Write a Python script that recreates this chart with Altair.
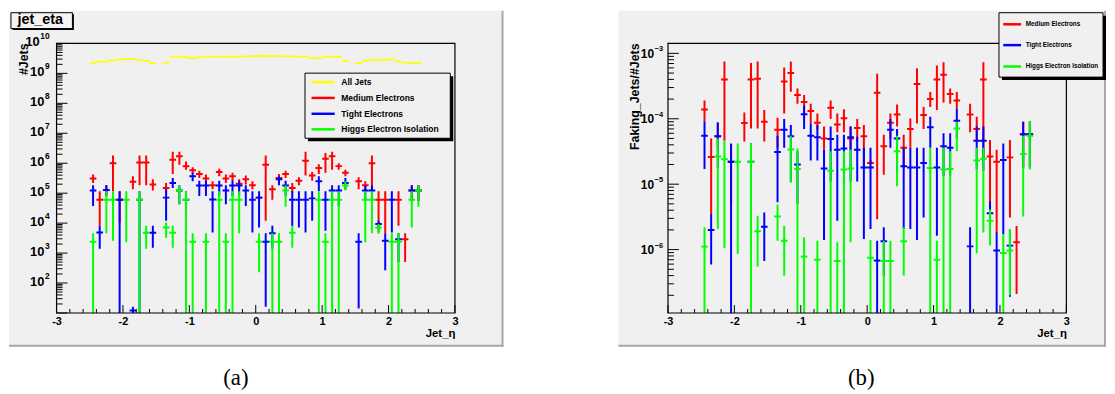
import altair as alt
import pandas as pd

SERIES = ["All Jets", "Medium Electrons", "Tight Electrons", "Higgs Electron Isolation"]
COLORS = ["#ffff00", "#ff0000", "#0000ff", "#00ff00"]
ETA = [round(-2.45 + 0.1 * i, 2) for i in range(50)]   # bin centres (bin width 0.1)
HALF_BIN = 0.05
X_TICKS = [-3, -2, -1, 0, 1, 2, 3]

# ---------- panel (a): #Jets per eta bin ----------
ALL_JETS = [2.24e9, 2.45e9, 2.45e9, 2.7e9, 2.9e9, 3.0e9, 3.0e9, 2.75e9, 2.6e9, 2.2e9,
            None, 2.3e9, 3.6e9, 3.6e9, 3.45e9, 3.2e9, 3.4e9, 3.6e9, 3.6e9, 3.6e9,
            3.6e9, 3.65e9, 3.65e9, 3.7e9, 3.75e9, 3.8e9, 3.8e9, 3.75e9, 3.75e9, 3.7e9,
            3.7e9, 3.65e9, 3.6e9, 3.25e9, 3.25e9, 3.6e9, 3.6e9, 3.6e9, 2.6e9, None,
            2.2e9, 2.65e9, 2.8e9, 2.8e9, 2.85e9, 2.95e9, 2.5e9, 2.3e9, 2.25e9, 2.2e9]

# bin index: (value, lower, upper)
MEDIUM_A = {
    0: (3.1e5, 2.2e5, 4.2e5), 1: (6.0e4, 8.2e3, 1.17e5), 2: (1.27e5, 8.0e4, 1.85e5),
    3: (1.0e6, 1.17e5, 1.8e6), 4: (6.0e4, 1.0e4, 1.17e5), 6: (2.4e5, 1.35e5, 3.7e5),
    7: (1.05e6, 1.85e5, 1.8e6), 8: (1.05e6, 1.85e5, 1.8e6), 9: (1.95e5, 1.23e5, 2.9e5),
    11: (1.5e5, 1.03e5, 2.2e5), 12: (1.3e6, 4.4e5, 2.4e6), 13: (1.7e6, 8.9e5, 2.4e6),
    14: (7.9e5, 6.1e5, 1.15e6), 15: (5.8e5, 4.4e5, 7.3e5), 16: (4.4e5, 3.2e5, 5.6e5),
    17: (3.1e5, 2.2e5, 4.2e5), 18: (1.85e5, 1.35e5, 2.5e5), 19: (5.1e5, 3.7e5, 6.5e5),
    20: (3.1e5, 2.2e5, 4.2e5), 21: (3.7e5, 2.5e5, 4.8e5), 22: (2.05e5, 1.35e5, 2.9e5),
    23: (2.9e5, 1.95e5, 3.9e5), 24: (1.85e5, 1.35e5, 2.5e5), 25: (7.1e4, 5.8e4, 8.7e4),
    26: (8.9e5, 1.2e4, 1.8e6), 27: (1.35e5, 6.0e4, 1.85e5), 28: (3.2e5, 2.2e5, 4.4e5),
    29: (4.4e5, 3.2e5, 5.6e5), 30: (1.5e5, 1.03e5, 2.2e5), 31: (2.6e5, 1.85e5, 3.4e5),
    32: (1.2e6, 3.9e5, 2.4e6), 33: (3.9e5, 2.6e5, 5.1e5), 34: (6.9e5, 4.4e5, 9.3e5),
    35: (1.4e6, 4.8e5, 2.2e6), 36: (1.7e6, 6.1e5, 2.4e6), 37: (8.0e5, 6.1e5, 1.0e6),
    38: (4.8e5, 3.7e5, 6.1e5), 40: (2.5e5, 1.35e5, 3.4e5), 41: (1.85e5, 1.23e5, 2.5e5),
    42: (1.0e6, 1.17e5, 1.8e6), 43: (6.0e4, 4.9e3, 1.17e5), 44: (6.0e4, 4.6e3, 1.17e5),
    46: (6.0e4, 8.2e3, 1.17e5), 47: (2.9e3, 5.0e2, 4.6e3), 48: (1.23e5, 5.5e4, 1.85e5),
    49: (1.23e5, 5.5e4, 1.85e5),
}
TIGHT_A = {
    0: (1.23e5, 3.7e4, 1.85e5), 1: (4.9e3, 1.4e3, 8.2e3), 2: (1.27e5, 8.0e4, 1.85e5),
    4: (6.0e4, 1, 1.17e5), 6: (12, 1, 16), 7: (6.0e4, 1, 1.17e5), 9: (4.8e3, 1.5e3, 8.2e3),
    11: (7.1e4, 1.2e4, 1.35e5), 12: (2.2e5, 1.5e5, 3.2e5), 13: (1.23e5, 4.3e4, 1.85e5),
    14: (6.0e4, 2.0e4, 1.17e5), 15: (3.7e5, 2.5e5, 4.8e5), 16: (1.8e5, 8.0e4, 2.6e5),
    17: (1.8e5, 8.0e4, 2.6e5), 18: (6.2e4, 4.9e3, 1.17e5), 19: (1.8e5, 8.0e4, 2.6e5),
    20: (1.23e5, 4.3e4, 1.85e5), 21: (1.8e5, 8.0e4, 2.6e5), 22: (1.8e5, 8.0e4, 2.6e5),
    23: (1.23e5, 3.7e4, 1.85e5), 24: (6.0e4, 4.9e3, 1.17e5), 25: (7.1e4, 7.2e3, 1.17e5),
    26: (2.4e3, 16, 4.6e3), 27: (4.6e3, 1.4e3, 8.2e3), 28: (2.9e5, 1.85e5, 3.7e5),
    29: (1.8e5, 8.0e4, 2.6e5), 30: (6.0e4, 8.0e3, 1.17e5), 31: (6.0e4, 7.2e3, 1.17e5),
    32: (6.0e4, 4.9e3, 1.17e5), 33: (6.7e4, 1.2e4, 1.17e5), 34: (2.5e5, 1.17e5, 3.7e5),
    35: (6.0e4, 5.6e3, 1.17e5), 36: (1.23e5, 3.7e4, 1.85e5), 37: (1.23e5, 3.7e4, 1.85e5),
    38: (2.2e5, 1.35e5, 3.2e5), 40: (2.4e3, 14, 4.6e3), 41: (1.23e5, 5.8e4, 1.85e5),
    42: (1.23e5, 5.8e4, 1.85e5), 43: (9.3e3, 6.3e3, 1.2e4), 44: (2.6e3, 265, 4.6e3),
    45: (6.0e4, 4.9e3, 1.17e5), 46: (2.9e3, 5.0e2, 4.6e3), 48: (1.23e5, 5.5e4, 1.85e5),
    49: (1.23e5, 5.5e4, 1.85e5),
}
HIGGS_A = {
    0: (2.4e3, 1, 4.6e3), 2: (6.0e4, 4.6e3, 1.17e5), 3: (6.0e4, 2.6e3, 1.17e5),
    5: (6.0e4, 2.3e3, 1.17e5), 7: (6.0e4, 1, 1.17e5), 8: (4.8e3, 1.4e3, 8.2e3),
    11: (7.2e3, 3.2e3, 1.05e4), 12: (4.8e3, 1.5e3, 8.2e3), 13: (1.23e5, 4.3e4, 1.85e5),
    14: (6.0e4, 1, 1.17e5), 15: (2.4e3, 1, 4.6e3), 17: (2.4e3, 1, 4.6e3),
    19: (6.0e4, 1, 1.17e5), 20: (2.4e3, 1, 4.6e3), 21: (6.0e4, 1, 1.17e5),
    22: (6.0e4, 4.6e3, 1.17e5), 25: (2.4e3, 2.3e2, 4.6e3), 27: (2.4e3, 1, 4.6e3),
    28: (2.4e3, 1, 4.6e3), 29: (1.23e5, 3.5e4, 1.85e5), 30: (4.8e3, 1.5e3, 8.2e3),
    34: (6.0e4, 1, 1.17e5), 35: (2.4e3, 1, 4.6e3), 36: (6.0e4, 1, 1.17e5),
    37: (6.0e4, 1, 1.17e5), 38: (1.8e5, 1.23e5, 2.5e5), 41: (6.0e4, 2.3e3, 1.17e5),
    42: (6.0e4, 4.6e3, 1.17e5), 43: (7.2e3, 4.4e3, 9.3e3), 45: (2.4e3, 1, 4.6e3),
    46: (2.4e3, 1, 4.6e3), 48: (6.0e4, 7.2e3, 1.17e5), 49: (1.23e5, 3.5e4, 1.85e5),
}

# ---------- panel (b): Faking_Jets/#Jets ----------
MEDIUM_B = {
    0: (1.39e-4, 9.2e-5, 1.9e-4), 1: (2.6e-5, 3.5e-6, 5.0e-5), 2: (5.4e-5, 3.6e-5, 8.8e-5),
    3: (4.0e-4, 4.6e-5, 7.5e-4), 4: (2.2e-5, 5.0e-6, 4.0e-5), 6: (8.6e-5, 4.5e-5, 1.25e-4),
    7: (4.0e-4, 7.1e-5, 7.1e-4), 8: (4.1e-4, 7.1e-5, 7.5e-4), 9: (9.0e-5, 4.5e-5, 1.36e-4),
    11: (6.8e-5, 3.6e-5, 1.04e-4), 12: (3.7e-4, 1.2e-4, 6.1e-4), 13: (5.0e-4, 2.6e-4, 7.5e-4),
    14: (2.3e-4, 1.7e-4, 2.9e-4), 15: (1.8e-4, 1.2e-4, 2.3e-4), 16: (1.32e-4, 8.5e-5, 1.7e-4),
    17: (8.7e-5, 6.8e-5, 1.2e-4), 18: (5.0e-5, 3.36e-5, 7.6e-5), 19: (1.47e-4, 9.9e-5, 1.9e-4),
    20: (8.2e-5, 6.2e-5, 1.2e-4), 21: (1.02e-4, 6.2e-5, 1.4e-4), 22: (5.0e-5, 3.36e-5, 7.6e-5),
    23: (7.2e-5, 4.5e-5, 9.9e-5), 24: (5.4e-5, 1.77e-5, 8.0e-5), 25: (2.1e-5, 2.0e-5, 2.37e-5),
    26: (2.5e-4, 2.9e-6, 4.9e-4), 27: (3.8e-5, 1.4e-5, 5.7e-5), 28: (8.7e-5, 5.0e-5, 1.2e-4),
    29: (1.16e-4, 7.6e-5, 1.65e-4), 30: (3.6e-5, 1.77e-5, 5.7e-5), 31: (7.0e-5, 3.6e-5, 1.01e-4),
    32: (3.4e-4, 8.5e-5, 5.9e-4), 33: (1.14e-4, 7.0e-5, 1.52e-4), 34: (2.0e-4, 1.52e-4, 2.57e-4),
    35: (4.0e-4, 1.36e-4, 6.5e-4), 36: (4.7e-4, 1.77e-4, 7.3e-4), 37: (2.4e-4, 1.7e-4, 2.9e-4),
    38: (1.9e-4, 1.44e-4, 2.57e-4), 40: (1.16e-4, 6.2e-5, 1.7e-4), 41: (7.0e-5, 4.5e-5, 1.07e-4),
    42: (4.0e-4, 2.5e-5, 7.3e-4), 43: (2.66e-5, 1.83e-6, 4.75e-5), 44: (2.2e-5, 1.8e-6, 3.36e-5),
    46: (2.57e-5, 3.1e-6, 4.75e-5), 47: (1.3e-6, 2.1e-7, 2.3e-6), 48: (5.8e-5, 1.8e-5, 9.0e-5),
    49: (5.8e-5, 1.8e-5, 9.2e-5),
}
TIGHT_B = {
    0: (5.5e-5, 1.7e-5, 9.2e-5), 1: (2.0e-6, 5.9e-7, 3.5e-6), 2: (5.4e-5, 1.77e-5, 8.8e-5),
    4: (2.2e-5, 1e-8, 4.2e-5), 7: (2.2e-5, 1.15e-6, 4.2e-5), 9: (2.24e-6, 6.7e-7, 3.7e-6),
    11: (3.1e-5, 5.3e-6, 5.5e-5), 12: (6.8e-5, 3.6e-5, 9.9e-5), 13: (5.4e-5, 1.1e-5, 8.0e-5),
    14: (2.0e-5, 5.0e-6, 3.2e-5), 15: (1.17e-4, 7.0e-5, 1.6e-4), 16: (5.5e-5, 2.3e-5, 8.5e-5),
    17: (5.2e-5, 2.3e-5, 8.0e-5), 18: (1.73e-5, 1.4e-6, 3.36e-5), 19: (4.9e-5, 1.1e-5, 7.6e-5),
    20: (3.36e-5, 2.75e-6, 5.7e-5), 21: (3.5e-5, 1.0e-5, 5.7e-5), 22: (5.2e-5, 1.1e-5, 7.6e-5),
    23: (3.36e-5, 1.1e-5, 5.3e-5), 24: (1.8e-5, 1.45e-6, 3.6e-5), 25: (1.8e-5, 2.06e-6, 3.6e-5),
    26: (6.8e-7, 1e-8, 1.37e-6), 27: (1.34e-6, 4.0e-7, 2.2e-6), 28: (6.8e-5, 3.6e-5, 9.9e-5),
    29: (5.0e-5, 1.5e-5, 7.0e-5), 30: (1.88e-5, 2.06e-6, 3.6e-5), 31: (1.8e-5, 2.06e-6, 3.6e-5),
    32: (1.8e-5, 1.4e-6, 3.6e-5), 33: (2.1e-5, 3.1e-6, 3.6e-5), 34: (7.4e-5, 3.6e-5, 1.07e-4),
    35: (1.8e-5, 1.63e-6, 3.6e-5), 36: (3.8e-5, 1.32e-5, 6.0e-5), 37: (3.6e-5, 1.32e-5, 6.0e-5),
    38: (9.3e-5, 5.0e-5, 1.44e-4), 40: (1.12e-6, 1e-8, 2.2e-6), 41: (4.6e-5, 1.7e-5, 7.6e-5),
    42: (4.6e-5, 1.6e-5, 7.6e-5), 43: (3.6e-6, 1.83e-6, 5.5e-6), 44: (9.7e-7, 1e-8, 1.83e-6),
    45: (2.34e-5, 1.73e-6, 4.2e-5), 46: (1.15e-6, 1.9e-7, 2.06e-6), 48: (5.8e-5, 1.8e-5, 9.0e-5),
    49: (5.8e-5, 1.8e-5, 9.0e-5),
}
HIGGS_B = {
    0: (1.11e-6, 1e-8, 2.2e-6), 2: (2.66e-5, 2.06e-6, 5.0e-5), 3: (2.4e-5, 1.06e-6, 4.6e-5),
    5: (2.2e-5, 8.6e-7, 4.2e-5), 7: (2.2e-5, 1e-8, 4.2e-5), 8: (1.9e-6, 5.5e-7, 3.3e-6),
    11: (3.2e-6, 1.37e-6, 4.9e-6), 12: (1.37e-6, 4.0e-7, 2.3e-6), 13: (3.4e-5, 1.05e-5, 5.5e-5),
    14: (1.7e-5, 1e-8, 3.5e-5), 15: (7.8e-7, 1e-8, 1.54e-6), 17: (7.0e-7, 1e-8, 1.37e-6),
    19: (1.6e-5, 1e-8, 3.2e-5), 20: (6.7e-7, 1e-8, 1.3e-6), 21: (1.67e-5, 1e-8, 3.2e-5),
    22: (1.73e-5, 1.3e-6, 3.36e-5), 25: (7.5e-7, 1e-8, 1.4e-6), 27: (6.7e-7, 1e-8, 1.37e-6),
    28: (6.7e-7, 1e-8, 1.37e-6), 29: (3.2e-5, 9.3e-6, 5.5e-5), 30: (1.34e-6, 4.0e-7, 2.2e-6),
    34: (1.77e-5, 1e-8, 3.6e-5), 35: (7.0e-7, 1e-8, 1.37e-6), 36: (1.67e-5, 1e-8, 3.6e-5),
    37: (1.71e-5, 1e-8, 3.2e-5), 38: (7.1e-5, 3.2e-5, 9.0e-5), 41: (2.3e-5, 8.8e-7, 3.6e-5),
    42: (2.45e-5, 1.83e-6, 3.6e-5), 43: (2.75e-6, 1.15e-6, 4.1e-6), 45: (8.9e-7, 1e-8, 1.73e-6),
    46: (9.7e-7, 2.0e-7, 2.06e-6), 48: (2.9e-5, 3.2e-6, 5.5e-5), 49: (5.5e-5, 1.67e-5, 9.2e-5),
}

LEFT_DOMAIN = [1e1, 1e10]
RIGHT_DOMAIN = [10 ** -6.969, 10 ** -2.848]

W, H = 402, 272
FONT = "Liberation Sans"
ONE = pd.DataFrame({"k": [0]})
cscale = alt.Scale(domain=SERIES, range=COLORS)
xscale = alt.Scale(domain=[-3, 3], nice=False, zero=False)
XAXIS = alt.Axis(values=X_TICKS, labelExpr="datum.value + ''", ticks=False, domain=False,
                 grid=False, labelFont=FONT, labelFontWeight="bold", labelFontSize=11,
                 labelColor="black", labelPadding=3, labelFlush=False, labelOverlap=False,
                 title="Jet_η", titleFont=FONT, titleFontWeight="bold", titleFontSize=11.5,
                 titleColor="black", titleAnchor="end", titlePadding=1, zindex=1)


def segments(series, pts):
    rows = []
    for i, (v, lo, hi) in pts.items():
        c = ETA[i]
        rows.append({"series": series, "xa": c, "xb": c, "ya": lo, "yb": hi})
        rows.append({"series": series, "xa": c - HALF_BIN, "xb": c + HALF_BIN, "ya": v, "yb": v})
    return rows


def d_rect(x, x2, y, y2, **kw):
    return alt.Chart(ONE).mark_rect(**kw).encode(
        x=alt.value(x), x2=alt.value(x2), y=alt.value(y), y2=alt.value(y2))


def d_rule(x, x2, y, y2, **kw):
    return alt.Chart(ONE).mark_rule(**kw).encode(
        x=alt.value(x), x2=alt.value(x2), y=alt.value(y), y2=alt.value(y2))


def d_text(x, y, text, **kw):
    return alt.Chart(ONE).mark_text(**kw).encode(
        x=alt.value(x), y=alt.value(y), text=alt.value(text))


def char_w(s, size):
    return sum(0.584 if ch == "−" else 0.556 for ch in s) * size


def build_panel(seg_rows, yellow_rows, ydomain, majors, minors, labels, lab_size, exp_size,
                exp_right, exp_dy, ten_dy, ytitle, leg, caption, cap_x, fx, fx2, title_box):
    yscale = alt.Scale(type="log", domain=ydomain, nice=False)
    layers = []
    # pad frame
    layers.append(d_rect(fx, fx2, -33, 306, fill="#f0f0f0"))
    layers.append(d_rule(fx2 - 1, fx2 - 1, -33, 306, stroke="#a9a9a9", strokeWidth=2))
    layers.append(d_rule(fx, fx2, 305, 305, stroke="#a9a9a9", strokeWidth=2))
    # main data: error bars and bin-width markers
    if yellow_rows:
        layers.append(alt.Chart(pd.DataFrame(yellow_rows)).mark_rule(strokeWidth=1.8, clip=True).encode(
            x=alt.X("xa:Q", scale=xscale, axis=XAXIS), x2="xb:Q",
            y=alt.Y("ya:Q", scale=yscale, axis=None), y2="yb:Q",
            color=alt.Color("series:N", scale=cscale, legend=None)))
    layers.append(alt.Chart(pd.DataFrame(seg_rows)).mark_rule(strokeWidth=2, clip=True).encode(
        x=alt.X("xa:Q", scale=xscale, axis=XAXIS), x2="xb:Q",
        y=alt.Y("ya:Q", scale=yscale, axis=None), y2="yb:Q",
        color=alt.Color("series:N", scale=cscale, legend=None)))
    # ticks drawn inside the frame (ROOT style)
    layers.append(alt.Chart(pd.DataFrame({"ya": majors})).mark_rule(color="black", strokeWidth=1).encode(
        y=alt.Y("ya:Q", scale=yscale, axis=None), x=alt.value(0), x2=alt.value(11)))
    layers.append(alt.Chart(pd.DataFrame({"ya": minors})).mark_rule(color="black", strokeWidth=1).encode(
        y=alt.Y("ya:Q", scale=yscale, axis=None), x=alt.value(0), x2=alt.value(6)))
    xminor = [round(-3 + 0.2 * k, 1) for k in range(31) if (k % 5) != 0]
    layers.append(alt.Chart(pd.DataFrame({"xa": X_TICKS})).mark_rule(color="black", strokeWidth=1).encode(
        x=alt.X("xa:Q", scale=xscale, axis=XAXIS), y=alt.value(H), y2=alt.value(H - 8)))
    layers.append(alt.Chart(pd.DataFrame({"xa": xminor})).mark_rule(color="black", strokeWidth=1).encode(
        x=alt.X("xa:Q", scale=xscale, axis=XAXIS), y=alt.value(H), y2=alt.value(H - 4)))
    # plot border
    layers.append(d_rect(0, W, 0, H, fillOpacity=0, stroke="black", strokeWidth=1.2))
    # y tick labels 10^n
    lab_df = pd.DataFrame({"ya": [v for v, _ in labels], "e": [e for _, e in labels],
                           "n": [len(e) for _, e in labels]})
    for n in sorted(lab_df["n"].unique()):
        sub = lab_df[lab_df["n"] == n]
        ew = char_w(sub["e"].iloc[0], exp_size)
        layers.append(alt.Chart(sub).mark_text(align="right", baseline="middle", font=FONT,
                                               fontWeight="bold", fontSize=lab_size, color="black",
                                               dy=ten_dy).encode(
            y=alt.Y("ya:Q", scale=yscale, axis=None), x=alt.value(exp_right - ew - 0.5),
            text=alt.value("10")))
    layers.append(alt.Chart(lab_df).mark_text(align="right", baseline="middle", font=FONT,
                                              fontWeight="bold", fontSize=exp_size, color="black",
                                              dy=exp_dy).encode(
        y=alt.Y("ya:Q", scale=yscale, axis=None), x=alt.value(exp_right), text="e:N"))
    # y title
    layers.append(d_text(-33, 0, ytitle, angle=270, align="right", baseline="middle", font=FONT,
                         fontWeight="bold", fontSize=12.5, color="black"))
    # legend box
    bx, bx2, by, by2 = leg["box"]
    layers.append(d_rect(bx + 3, bx2 + 3, by + 3, by2 + 3, fill="black"))
    layers.append(d_rect(bx, bx2, by, by2, fill="#f0f0f0", stroke="black", strokeWidth=1))
    for k, name in enumerate(leg["names"]):
        yy = leg["rows"][k]
        layers.append(d_rule(leg["line"][0], leg["line"][1], yy, yy,
                             stroke=COLORS[SERIES.index(name)], strokeWidth=2.5))
        layers.append(d_text(leg["tx"], yy, name, align="left", baseline="middle", font=FONT,
                             fontWeight="bold", fontSize=leg["size"], color="black"))
    if title_box:
        layers.append(d_rect(-44.5, 17.5, -29.5, -13.5, fill="black"))
        layers.append(d_rect(-46, 16, -31, -15, fill="#f4f4f4", stroke="black", strokeWidth=1))
        layers.append(d_text(-39.5, -23.5, title_box, align="left", baseline="middle", font=FONT,
                             fontWeight="bold", fontSize=14.5, color="black"))
    layers.append(d_text(cap_x, 345, caption, align="center", baseline="alphabetic",
                         font="Liberation Serif", fontSize=23, color="black"))
    return alt.layer(*layers).properties(width=W, height=H)


# panel (a)
yellow_rows = [{"series": SERIES[0], "xa": ETA[i] - HALF_BIN, "xb": ETA[i] + HALF_BIN, "ya": v, "yb": v}
               for i, v in enumerate(ALL_JETS) if v is not None]
seg_a = segments(SERIES[1], MEDIUM_A) + segments(SERIES[2], TIGHT_A) + segments(SERIES[3], HIGGS_A)
maj_a = [10.0 ** d for d in range(1, 11)]
min_a = [m * 10.0 ** d for d in range(1, 10) for m in range(2, 10)]
lab_a = [(10.0 ** d, str(d)) for d in range(2, 11)]
leg_a = {"box": (250.7, 397.3, 30, 95.7), "line": (257.3, 280.7), "tx": 287.3,
         "rows": [39, 55, 71, 86.7], "size": 8.6, "names": SERIES}
left = build_panel(seg_a, yellow_rows, LEFT_DOMAIN, maj_a, min_a, lab_a, 13, 8.5, -7, -7, -1,
                   "#Jets", leg_a, "(a)", 181, -48, 451, "jet_eta")

# panel (b)
seg_b = segments(SERIES[1], MEDIUM_B) + segments(SERIES[2], TIGHT_B) + segments(SERIES[3], HIGGS_B)
maj_b = [10.0 ** d for d in range(-6, -2)]
min_b = [m * 10.0 ** d for d in range(-7, -2) for m in range(2, 10)
         if RIGHT_DOMAIN[0] < m * 10.0 ** d < RIGHT_DOMAIN[1]]
lab_b = [(10.0 ** -d, "−" + str(d)) for d in (3, 4, 5, 6)]
leg_b = {"box": (334, 439, -31, 34), "line": (338.3, 356.3), "tx": 361,
         "rows": [-19.3, 1.7, 23.3], "size": 6.4, "names": SERIES[1:]}
right = build_panel(seg_b, None, RIGHT_DOMAIN, maj_b, min_b, lab_b, 12, 7.5, -5, -4, 0.5,
                    "Faking_Jets/#Jets", leg_b, "(b)", 195, -50, 442, None)

chart = alt.hconcat(left, right, spacing=114).properties(padding=0).configure(
    font=FONT).configure_view(strokeWidth=0)

chart.save("out.html", embed_options={"renderer": "svg", "actions": False})
